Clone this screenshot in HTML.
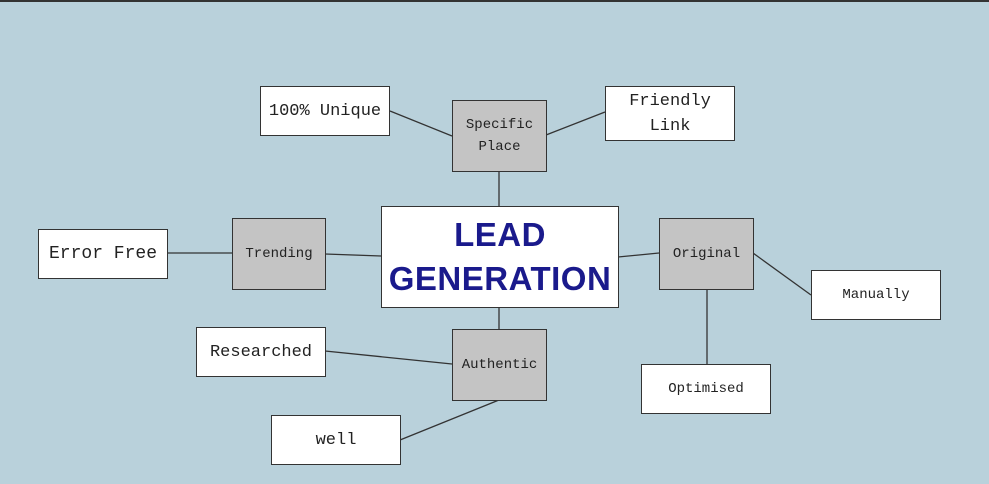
<!DOCTYPE html>
<html><head><style>
body{margin:0;width:989px;height:484px;background:#b9d1db;position:relative;overflow:hidden;font-family:"Liberation Mono",monospace;}
.b{position:absolute;box-sizing:border-box;border:1.5px solid #333;display:flex;align-items:center;justify-content:center;text-align:center;color:#222;}
.w{background:#fff;font-size:17px;}
.g{background:#c4c4c4;font-size:14px;line-height:22px;}
svg{position:absolute;left:0;top:0}
</style></head><body>
<div style="position:absolute;left:0;top:0;width:989px;height:2px;background:#333"></div>
<svg width="989" height="484"><g stroke="#333" stroke-width="1.3">
<line x1="390" y1="111" x2="452" y2="136"/><line x1="546" y1="135" x2="605" y2="112"/>
<line x1="499" y1="171" x2="499" y2="206"/><line x1="325" y1="254" x2="381" y2="256"/>
<line x1="167" y1="253" x2="232" y2="253"/><line x1="618" y1="257" x2="659" y2="253"/>
<line x1="753" y1="253" x2="811" y2="295"/><line x1="707" y1="289" x2="707" y2="364"/>
<line x1="499" y1="307" x2="499" y2="329"/><line x1="325" y1="351" x2="452" y2="364"/>
<line x1="400" y1="440" x2="499" y2="400"/></g></svg>
<div class="b w" style="left:260px;top:86px;width:130px;height:50px">100% Unique</div>
<div class="b g" style="left:452px;top:100px;width:95px;height:72px">Specific<br>Place</div>
<div class="b w" style="left:605px;top:86px;width:130px;height:55px;line-height:25px">Friendly<br>Link</div>
<div class="b" style="left:381px;top:206px;width:238px;height:102px;background:#fff;color:#1a1a8c;font-family:'Liberation Sans',sans-serif;font-weight:bold;font-size:33px;line-height:44px;letter-spacing:0.5px">LEAD<br>GENERATION</div>
<div class="b g" style="left:232px;top:218px;width:94px;height:72px">Trending</div>
<div class="b w" style="left:38px;top:229px;width:130px;height:50px;font-size:18px">Error Free</div>
<div class="b g" style="left:659px;top:218px;width:95px;height:72px">Original</div>
<div class="b w" style="left:811px;top:270px;width:130px;height:50px;font-size:14px">Manually</div>
<div class="b w" style="left:196px;top:327px;width:130px;height:50px">Researched</div>
<div class="b g" style="left:452px;top:329px;width:95px;height:72px">Authentic</div>
<div class="b w" style="left:271px;top:415px;width:130px;height:50px">well</div>
<div class="b w" style="left:641px;top:364px;width:130px;height:50px;font-size:14px">Optimised</div>
</body></html>
